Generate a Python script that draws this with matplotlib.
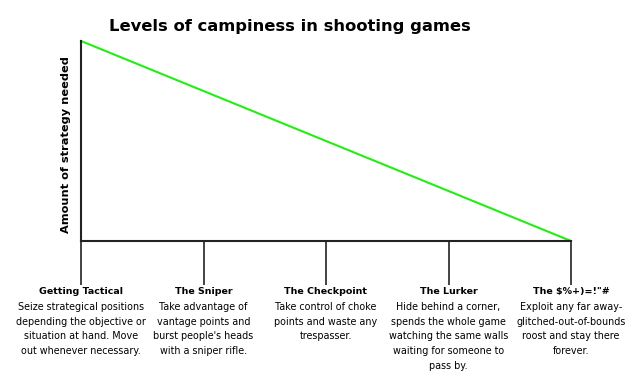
import matplotlib.pyplot as plt
import numpy as np

categories = ["Getting Tactical", "The Sniper", "The Checkpoint", "The Lurker", "The \\$%+)=!\"#"]
descriptions = [
    "Seize strategical positions\ndepending the objective or\nsituation at hand. Move\nout whenever necessary.",
    "Take advantage of\nvantage points and\nburst people's heads\nwith a sniper rifle.",
    "Take control of choke\npoints and waste any\ntrespasser.",
    "Hide behind a corner,\nspends the whole game\nwatching the same walls\nwaiting for someone to\npass by.",
    "Exploit any far away-\nglitched-out-of-bounds\nroost and stay there\nforever.",
]
strategy = [1.0, 0.75, 0.5, 0.25, 0.0]

fig = plt.figure(figsize=(6.4, 3.76), dpi=100)
ax = fig.add_axes([81 / 640, 1 - 241 / 376, 490 / 640, 200 / 376])

x = np.arange(len(categories))
ax.plot(x, strategy, color="#22ee11", lw=1.5, clip_on=False)
ax.set_xlim(0, len(categories) - 1)
ax.set_ylim(0, 1)

# only the left and bottom axis lines
ax.spines["top"].set_visible(False)
ax.spines["right"].set_visible(False)
for s in ("left", "bottom"):
    ax.spines[s].set_linewidth(1.5)
    ax.spines[s].set_color("#222222")

ax.set_yticks([])
ax.set_xticks(x)
ax.set_xticklabels([])
ax.tick_params(axis="x", length=31.5, width=1.2, color="#222222", direction="out")

for xi, name, desc in zip(x, categories, descriptions):
    ax.annotate(name, xy=(xi, 0), xycoords=("data", "axes fraction"),
                xytext=(0, -33), textcoords="offset points",
                ha="center", va="top", fontsize=6.8, fontweight="bold")
    ax.annotate(desc, xy=(xi, 0), xycoords=("data", "axes fraction"),
                xytext=(0, -44), textcoords="offset points",
                ha="center", va="top", fontsize=6.9, linespacing=1.58)

ax.set_ylabel("Amount of strategy needed", fontsize=8.2, fontweight="bold")
ax.yaxis.set_label_coords(-0.021, 0.482)
fig.text(290 / 640, 1 - 27 / 376, "Levels of campiness in shooting games",
         ha="center", va="center", fontsize=11.8, fontweight="bold")

fig.savefig("out.png", dpi=100)
